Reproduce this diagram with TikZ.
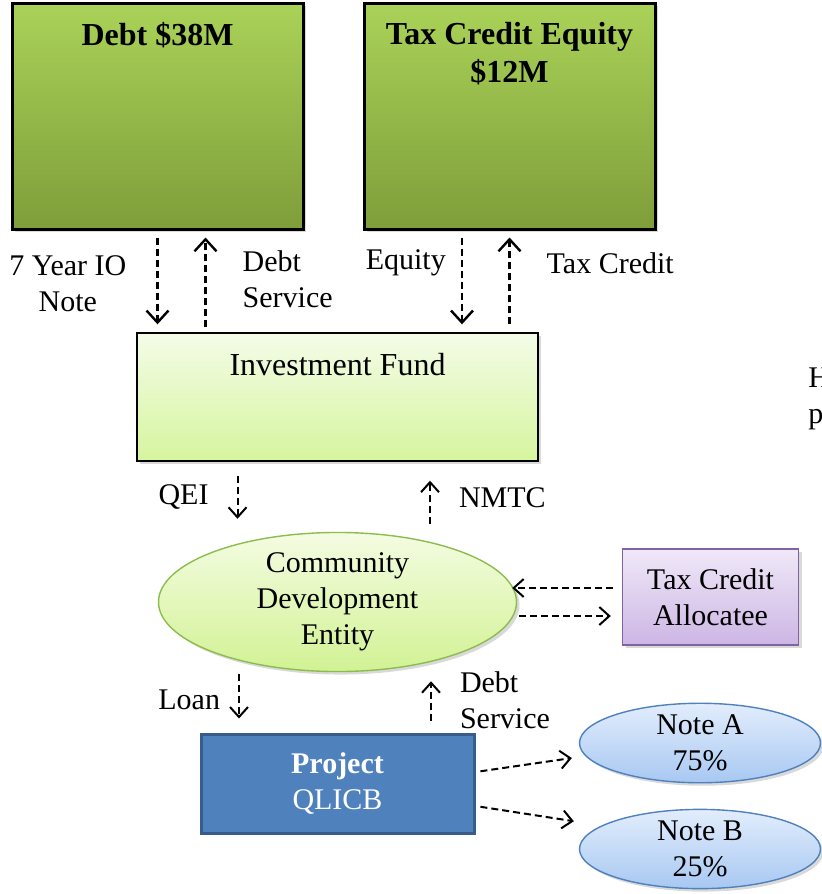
\documentclass[tikz,border=0pt]{standalone}
\usepackage{fontspec}
\setmainfont{Liberation Serif}
\usetikzlibrary{positioning,shapes.geometric,shadows,arrows.meta}

\definecolor{greentop}{RGB}{170,210,88}
\definecolor{greenbot}{RGB}{126,158,58}
\definecolor{fundtop}{RGB}{244,252,232}
\definecolor{fundbot}{RGB}{214,245,158}
\definecolor{cdetop}{RGB}{244,252,226}
\definecolor{cdebot}{RGB}{210,242,148}
\definecolor{cdeline}{RGB}{140,188,78}
\definecolor{alloctop}{RGB}{240,232,248}
\definecolor{allocbot}{RGB}{204,182,228}
\definecolor{allocline}{RGB}{128,100,162}
\definecolor{projfill}{RGB}{79,129,189}
\definecolor{projline}{RGB}{56,93,138}
\definecolor{notetop}{RGB}{226,237,252}
\definecolor{notebot}{RGB}{168,200,242}

\begin{document}
\begin{tikzpicture}[on grid,
    font=\fontsize{15}{18}\selectfont,
    softshadow/.style={drop shadow={opacity=0.3,shadow xshift=1.5pt,shadow yshift=-1.5pt}},
    bigbox/.style={draw=black,line width=1.5pt,minimum width=145.5pt,minimum height=113pt,
      top color=greentop,bottom color=greenbot,softshadow},
    boxtitle/.style={anchor=north,yshift=-10pt,inner sep=0pt,align=center,
      font=\fontsize{16}{19}\selectfont\bfseries},
    fundbox/.style={draw=black,line width=0.7pt,minimum width=200.5pt,minimum height=64pt,
      top color=fundtop,bottom color=fundbot,softshadow},
    fundtitle/.style={anchor=north,yshift=-10.5pt,inner sep=0pt,font=\fontsize{16}{19}\selectfont},
    cdeshape/.style={ellipse,draw=cdeline,line width=0.7pt,inner sep=0pt,minimum width=179pt,
      minimum height=64pt,top color=cdetop,bottom color=cdebot,align=center,softshadow},
    allocbox/.style={draw=allocline,line width=0.7pt,minimum width=88pt,minimum height=48pt,
      top color=alloctop,bottom color=allocbot,align=center,softshadow},
    projbox/.style={draw=projline,line width=1.5pt,fill=projfill,minimum width=136.5pt,
      minimum height=49.5pt,text=white,align=center},
    noteshape/.style={ellipse,draw=projfill,line width=0.7pt,inner sep=0pt,minimum width=120.5pt,
      minimum height=38.5pt,top color=notetop,bottom color=notebot,align=center,softshadow},
    bigflow/.style={dash pattern=on 3.5pt off 2pt,line width=1.2pt,-{Straight Barb[length=6pt,width=11pt]}},
    flow/.style={dash pattern=on 3.5pt off 2pt,line width=1pt,-{Straight Barb[length=5pt,width=9pt]}},
    lbl/.style={inner sep=0pt,align=center}
  ]
  \useasboundingbox (0,0) rectangle (410.5pt,-447pt);

  \node[bigbox,label={[boxtitle]north:Debt \$38M}] (debt) at (78.75pt,-58pt) {};
  \node[bigbox,label={[boxtitle]north:Tax Credit Equity\\\$12M}] (tce) [right=176pt of debt] {};
  \node[fundbox,label={[fundtitle]north:Investment Fund}] (fund) [below right=140.5pt and 90pt of debt] {};
  \node[cdeshape] (cde) [below=102.5pt of fund] {Community\\Development\\Entity};
  \node[allocbox] (alloc) [above right=2.5pt and 186.5pt of cde] {Tax Credit\\Allocatee};
  \node[projbox] (proj) [below=90.75pt of cde] {\textbf{Project}\\QLICB};
  \node[noteshape] (notea) [above right=20.25pt and 181.25pt of proj] {Note A\\75\%};
  \node[noteshape] (noteb) [below=53pt of notea] {Note B\\25\%};

  % text cut off at the right edge
  \node[anchor=west,inner sep=0pt] (hcut) at (404pt,-189pt) {H};
  \node[anchor=west,inner sep=0pt] (pcut) at (404pt,-210pt) {p};

  \coordinate (dsvc) at ([xshift=24pt]debt.south);
  \coordinate (eqty) at ([xshift=-23.75pt]tce.south);
  \coordinate (qei) at ([xshift=-50pt]fund.south);
  \coordinate (nmtc) at ([xshift=46.25pt]fund.south);
  \coordinate (loan) at ([xshift=-49.25pt]proj.north);
  \coordinate (svc) at ([xshift=46.75pt]proj.north);
  \coordinate (taup) at ([yshift=4.5pt]alloc.west);
  \coordinate (tadn) at ([yshift=-9.5pt]alloc.west);

  \path[bigflow]
    (debt.south) edge[shorten <=3.5pt,shorten >=4pt]
      node[lbl,left=15pt,pos=.52] {7 Year IO\\Note} (debt.south |- fund.north)
    (dsvc |- fund.north) edge[shorten <=2.5pt,shorten >=3.5pt]
      node[lbl,right=18pt,pos=.52,align=left] {Debt\\Service} (dsvc)
    (eqty) edge[shorten <=3.5pt,shorten >=4pt]
      node[lbl,left=7.5pt,pos=.32] {Equity} (eqty |- fund.north)
    (tce.south |- fund.north) edge[shorten <=4pt,shorten >=3.5pt]
      node[lbl,right=18pt,pos=.68] {Tax Credit} (tce.south);

  \path[flow]
    (qei) edge[shorten <=7pt,shorten >=6.5pt]
      node[lbl,left=14pt,pos=.51] {QEI} (qei |- cde.north)
    (nmtc |- cde.north) edge[shorten <=4pt,shorten >=9.5pt]
      node[lbl,right=14pt,pos=.49] {NMTC} (nmtc)
    (taup) edge[shorten <=4.5pt,shorten >=-2.5pt] (taup -| cde.east)
    (tadn -| cde.east) edge[shorten <=1pt,shorten >=5.5pt] (tadn)
    (loan |- cde.south) edge[shorten <=1pt,shorten >=7pt]
      node[lbl,left=9pt,pos=.46] {Loan} (loan)
    (svc) edge[shorten <=6pt,shorten >=4.5pt]
      node[lbl,right=14pt,pos=.54,align=left] {Debt\\Service} (svc |- cde.south)
    ([yshift=5.75pt]proj.east) edge[shorten <=2.5pt,shorten >=3.5pt] ([yshift=-7pt]notea.west)
    ([yshift=-11.25pt]proj.east) edge[shorten <=2.5pt,shorten >=2.5pt] ([yshift=13.5pt]noteb.west);
\end{tikzpicture}
\end{document}
